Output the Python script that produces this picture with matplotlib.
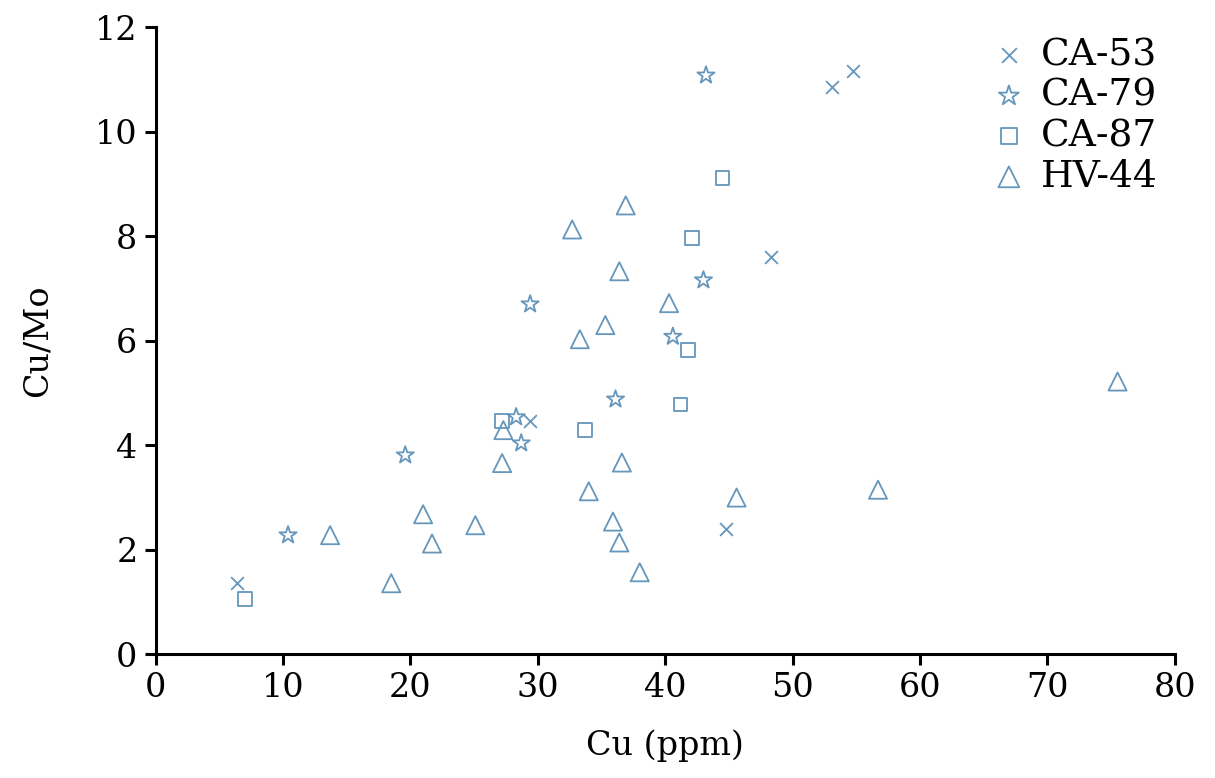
import matplotlib
matplotlib.use("Agg")
import matplotlib.pyplot as plt

plt.rcParams['font.family'] = ['DejaVu Serif']

# Cu (ppm) vs Cu/Mo for each sample
ca53_cu = [6.4, 29.4, 44.8, 48.3, 53.1, 54.7]
ca53_ratio = [1.36, 4.46, 2.40, 7.60, 10.85, 11.17]

ca79_cu = [10.4, 19.6, 28.3, 28.7, 29.4, 36.1, 40.6, 43.0, 43.2]
ca79_ratio = [2.28, 3.81, 4.54, 4.04, 6.70, 4.88, 6.08, 7.16, 11.08]

ca87_cu = [7.0, 27.2, 33.7, 41.2, 41.8, 42.1, 44.5]
ca87_ratio = [1.05, 4.46, 4.29, 4.78, 5.82, 7.96, 9.11]

hv44_cu = [13.7, 18.5, 21.0, 21.7, 25.1, 27.2, 27.3, 32.7, 33.3, 34.0, 35.3,
           35.9, 36.4, 36.4, 36.6, 36.9, 38.0, 40.3, 45.6, 56.7, 75.5]
hv44_ratio = [2.28, 1.36, 2.68, 2.12, 2.47, 3.66, 4.29, 8.13, 6.03, 3.12, 6.30,
              2.54, 7.33, 2.14, 3.67, 8.59, 1.57, 6.72, 3.00, 3.15, 5.22]

color = '#6596bb'

fig = plt.figure(figsize=(12.15, 7.78), dpi=100)
ax = fig.add_axes([0.128, 0.159, 0.839, 0.806])

ax.scatter(ca53_cu, ca53_ratio, marker='x', s=85, color=color, linewidths=1.3, label='CA-53')
ax.scatter(ca79_cu, ca79_ratio, marker='*', s=170, facecolors='none', edgecolors=color,
           linewidths=1.3, label='CA-79')
ax.scatter(ca87_cu, ca87_ratio, marker='s', s=100, facecolors='none', edgecolors=color,
           linewidths=1.3, label='CA-87')
ax.scatter(hv44_cu, hv44_ratio, marker='^', s=170, facecolors='none', edgecolors=color,
           linewidths=1.3, label='HV-44')

ax.set_xlim(0, 80)
ax.set_ylim(0, 12)
ax.set_xticks(range(0, 81, 10))
ax.set_yticks(range(0, 13, 2))
ax.set_xlabel('Cu (ppm)', fontsize=24, labelpad=18)
ax.set_ylabel('Cu/Mo', fontsize=24, labelpad=30)

for side in ['top', 'right']:
    ax.spines[side].set_visible(False)
for side in ['left', 'bottom']:
    ax.spines[side].set_linewidth(2.2)
ax.tick_params(direction='out', length=8, width=2.2, labelsize=24, pad=5)

ax.legend(loc='upper right', bbox_to_anchor=(1.005, 1.02), frameon=False, fontsize=27,
          handletextpad=0.35, labelspacing=0.12, borderaxespad=0.2, handlelength=1.0,
          markerscale=1.15)

fig.savefig('out.png', dpi=100)
